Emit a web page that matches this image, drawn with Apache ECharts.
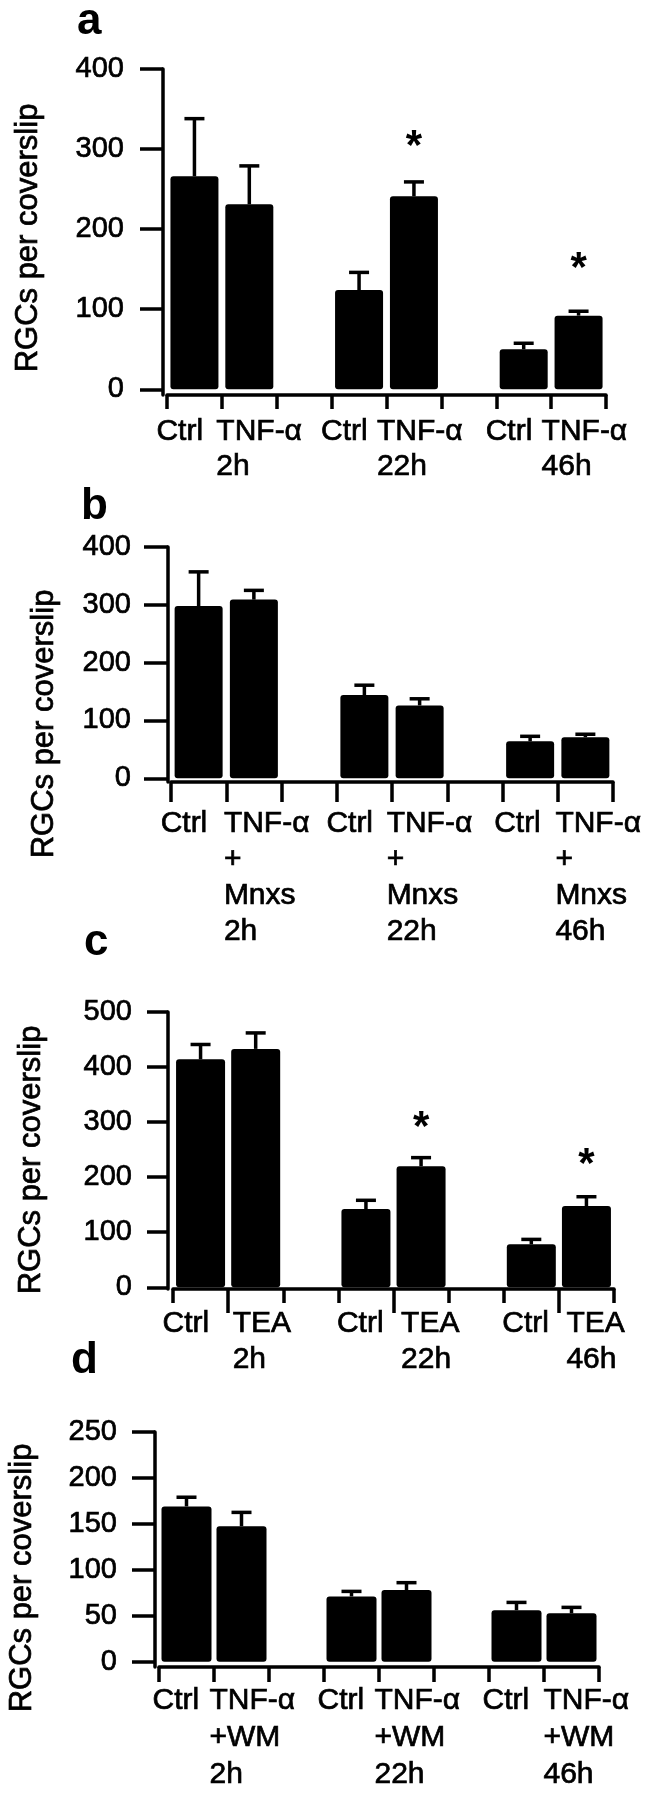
<!DOCTYPE html>
<html>
<head>
<meta charset="utf-8">
<script src="https://cdn.jsdelivr.net/npm/echarts@6/dist/echarts.min.js"></script>
<style>html,body{margin:0;padding:0;background:#fff}#chart{width:651px;height:1800px}</style>
</head>
<body>
<div id="chart"></div>
<script>
// ---------------- data ----------------
const timeLabels = ['2h', '22h', '46h'];
const ctrlLabel = 'Ctrl';
const yTitle = 'RGCs per coverslip';

// panel a
const aTreat = 'TNF-α';
const aCtrl = [266, 124, 50];
const aCtrlErr = [72, 22, 7.5];
const aTrt = [231, 241, 92];
const aTrtErr = [48, 18, 5.5];
const aStar = [null, 314, 162];
const aTicks = [0, 100, 200, 300, 400];

// panel b
const bTreat = 'TNF-α\n+\nMnxs';
const bCtrl = [298, 144, 64];
const bCtrlErr = [59, 17, 8.6];
const bTrt = [309, 126, 71];
const bTrtErr = [16, 11.5, 5.2];
const bStar = [null, null, null];
const bTicks = [0, 100, 200, 300, 400];

// panel c
const cTreat = 'TEA';
const cCtrl = [414, 142, 78];
const cCtrlErr = [27, 16, 9];
const cTrt = [433, 220, 147.5];
const cTrtErr = [29, 15.5, 17];
const cStar = [null, 307, 240];
const cTicks = [0, 100, 200, 300, 400, 500];

// panel d
const dTreat = 'TNF-α\n+WM';
const dCtrl = [169, 71, 56];
const dCtrlErr = [10, 5.5, 8.5];
const dTrt = [147.5, 78, 52.6];
const dTrtErr = [15, 8, 6.5];
const dStar = [null, null, null];
const dTicks = [0, 50, 100, 150, 200, 250];

const panelLetters = ['a', 'b', 'c', 'd'];

// ---------------- layout / style ----------------
const FONT = '"Liberation Sans", Arial, Helvetica, sans-serif';
const TB = 0.7; // slight stroke to mimic the heavier printed type
const AX = 3.5;
const layout = [
  {grid:{left:167, top:69, width:439, height:326}, yMin:-7.1, yMax:400, yOff:4, yTick:23, yMargin:39,
   nameGap:119, namePad:12, xMargin:19, xTick:14, lh:35, barW:48,
   ctrlOff:[-38,-38,-38], trtOff:[-33,-37,-37], letter:[77,0]},
  {grid:{left:171, top:547, width:442, height:235}, yMin:-6.4, yMax:400, yOff:3, yTick:24, yMargin:37,
   nameGap:108, namePad:119, xMargin:24, xTick:20, lh:36, barW:48,
   ctrlOff:[-38,-38,-36], trtOff:[-30,-33,-30], letter:[81,485]},
  {grid:{left:173, top:1012, width:441, height:277}, yMin:-3.1, yMax:500, yOff:5, yTick:21, yMargin:36,
   nameGap:121, namePad:19, xMargin:17, xTick:14, lh:36, barW:49,
   ctrlOff:[-38,-29,-29], trtOff:[-23,-20,-20], letter:[84,921]},
  {grid:{left:159, top:1432, width:440, height:235}, yMin:-5.8, yMax:250, yOff:4, yTick:23, yMargin:38,
   nameGap:117, namePad:57, xMargin:15.5, xTick:15, lh:37, barW:50,
   ctrlOff:[-34,-34,-34], trtOff:[-32,-32,-28], letter:[71,1339]}
];

const panels = [
  {treat:aTreat, ctrl:aCtrl, ctrlErr:aCtrlErr, trt:aTrt, trtErr:aTrtErr, star:aStar, ticks:aTicks},
  {treat:bTreat, ctrl:bCtrl, ctrlErr:bCtrlErr, trt:bTrt, trtErr:bTrtErr, star:bStar, ticks:bTicks},
  {treat:cTreat, ctrl:cCtrl, ctrlErr:cCtrlErr, trt:cTrt, trtErr:cTrtErr, star:cStar, ticks:cTicks},
  {treat:dTreat, ctrl:dCtrl, ctrlErr:dCtrlErr, trt:dTrt, trtErr:dTrtErr, star:dStar, ticks:dTicks}
];

function errRender(params, api) {
  const x = api.value(0), m = api.value(1), e = api.value(2);
  const p0 = api.coord([x, m]);
  const p1 = api.coord([x, m + e]);
  const hw = 10;
  const st = {stroke:'#000', lineWidth:3.5, fill:null};
  return {type:'group', children:[
    {type:'line', shape:{x1:p0[0], y1:p0[1], x2:p1[0], y2:p1[1]}, style:st},
    {type:'line', shape:{x1:p1[0]-hw, y1:p1[1], x2:p1[0]+hw, y2:p1[1]}, style:st}
  ]};
}
function starRender(params, api) {
  const p = api.coord([api.value(0), api.value(1)]);
  return {type:'text', x:p[0], y:p[1] + 10,
    style:{text:'*', fill:'#000', fontSize:42, fontWeight:'bold', fontFamily:FONT,
           align:'center', verticalAlign:'middle'}};
}
function makeLabelRender(texts, offs, L) {
  return function (params, api) {
    const i = params.dataIndex;
    const p = api.coord([api.value(0), L.yMin]);
    return {type:'text', x:p[0] + offs[i], y:p[1] + L.xMargin,
      style:{text:texts[i], fill:'#000', stroke:'#000', lineWidth:TB, fontSize:30, fontFamily:FONT,
             lineHeight:L.lh, align:'left', verticalAlign:'top'}};
  };
}

const grids = [], xAxes = [], yAxes = [], series = [], titles = [];
panels.forEach(function (p, i) {
  const L = layout[i];
  grids.push(Object.assign({outerBoundsMode:'none', containLabel:false}, L.grid));
  titles.push({text:panelLetters[i], left:L.letter[0], top:L.letter[1], padding:0,
    textStyle:{fontSize:44, fontWeight:'bold', color:'#000', fontFamily:FONT}});

  const cats = [], bars = [], errs = [], stars = [], labPos = [], labTxt = [], labOff = [];
  for (let g = 0; g < 3; g++) {
    const base = g * 3;
    cats.push(ctrlLabel);
    cats.push(p.treat + '\n' + timeLabels[g]);
    bars.push(p.ctrl[g]);
    bars.push(p.trt[g]);
    errs.push([base, p.ctrl[g], p.ctrlErr[g]]);
    errs.push([base + 1, p.trt[g], p.trtErr[g]]);
    if (p.star[g] != null) stars.push([base + 1, p.star[g]]);
    labPos.push([base, 0]); labTxt.push(ctrlLabel); labOff.push(L.ctrlOff[g]);
    labPos.push([base + 1, 0]); labTxt.push(p.treat + '\n' + timeLabels[g]); labOff.push(L.trtOff[g]);
    if (g < 2) { cats.push(''); bars.push('-'); }
  }

  xAxes.push({gridIndex:i, type:'category', data:cats, boundaryGap:true, position:'bottom',
    axisLine:{show:true, onZero:false, lineStyle:{color:'#000', width:AX}},
    axisTick:{show:true, interval:0, alignWithLabel:false, length:L.xTick, lineStyle:{color:'#000', width:AX}},
    axisLabel:{show:false},
    splitLine:{show:false}});

  yAxes.push({gridIndex:i, type:'value', min:L.yMin, max:L.yMax, offset:L.yOff, position:'left',
    axisLine:{show:true, onZero:false, lineStyle:{color:'#000', width:AX}},
    axisTick:{show:true, length:L.yTick, customValues:p.ticks, lineStyle:{color:'#000', width:AX}},
    axisLabel:{show:true, margin:L.yMargin, fontSize:29, color:'#000', fontFamily:FONT, customValues:p.ticks,
      textBorderColor:'#000', textBorderWidth:TB},
    splitLine:{show:false},
    name:yTitle, nameLocation:'middle', nameRotate:90, nameGap:L.nameGap,
    nameTextStyle:{fontSize:31, color:'#000', fontFamily:FONT, padding:[0, L.namePad, 0, 0],
      textBorderColor:'#000', textBorderWidth:TB}});

  series.push({type:'bar', xAxisIndex:i, yAxisIndex:i, data:bars, barWidth:L.barW,
    itemStyle:{color:'#000', borderRadius:3}, silent:true});
  series.push({type:'custom', xAxisIndex:i, yAxisIndex:i, data:errs, renderItem:errRender, silent:true, z:3});
  if (stars.length) {
    series.push({type:'custom', xAxisIndex:i, yAxisIndex:i, data:stars, renderItem:starRender, silent:true, z:4});
  }
  series.push({type:'custom', xAxisIndex:i, yAxisIndex:i, data:labPos, clip:false,
    renderItem:makeLabelRender(labTxt, labOff, L), silent:true, z:5});
});

// panel c: longer ticks between Ctrl and TEA
(function () {
  const i = 2;
  const bounds = [];
  for (let k = 0; k <= 8; k++) bounds.push(String(k));
  xAxes.push({gridIndex:i, type:'category', data:bounds, boundaryGap:false, position:'bottom',
    axisLine:{show:false, onZero:false},
    axisTick:{show:true, length:24, interval:function (idx) { return idx % 3 === 1; },
      lineStyle:{color:'#000', width:AX}},
    axisLabel:{show:false}, splitLine:{show:false}});
})();

const chart = echarts.init(document.getElementById('chart'), null, {renderer:'canvas', width:651, height:1800});
chart.setOption({
  animation:false,
  backgroundColor:'#fff',
  textStyle:{fontFamily:FONT, color:'#000'},
  title:titles,
  grid:grids,
  xAxis:xAxes,
  yAxis:yAxes,
  series:series
});
</script>
</body>
</html>
